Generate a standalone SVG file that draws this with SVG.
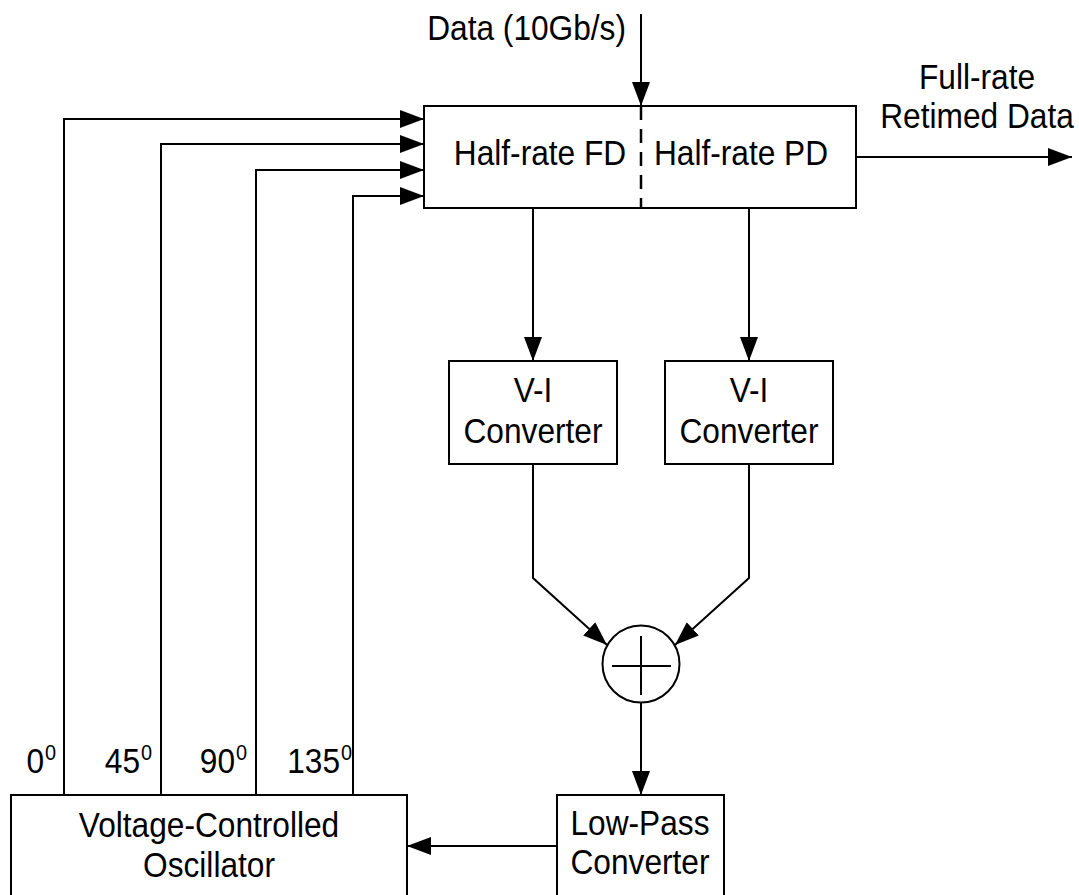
<svg xmlns="http://www.w3.org/2000/svg" width="1079" height="895" viewBox="0 0 1079 895">
<style>
.box{fill:#fff;stroke:#000;stroke-width:2}
.ln{fill:none;stroke:#000;stroke-width:2}
text{font-family:"Liberation Sans",Arial,sans-serif;font-size:35px;fill:#000}
.c{text-anchor:middle}
.e{text-anchor:end}
.sup{font-size:22px}
</style>
<defs>
<marker id="ah" markerUnits="userSpaceOnUse" viewBox="0 0 24 18" refX="24" refY="9" markerWidth="24" markerHeight="18" orient="auto">
<path d="M0,0 L24,9 L0,18 Z" fill="#000"/>
</marker>
</defs>
<rect width="1079" height="895" fill="#fff"/>
<g id="connectors">
<line class="ln" x1="641" y1="14" x2="641" y2="106" marker-end="url(#ah)"/>
<line class="ln" x1="856" y1="157" x2="1072" y2="157" marker-end="url(#ah)"/>
<polyline class="ln" points="64,795 64,119 424,119" marker-end="url(#ah)"/>
<polyline class="ln" points="161,795 161,144 424,144" marker-end="url(#ah)"/>
<polyline class="ln" points="256,795 256,170 424,170" marker-end="url(#ah)"/>
<polyline class="ln" points="353,795 353,196 424,196" marker-end="url(#ah)"/>
<line class="ln" x1="533" y1="208" x2="533" y2="361" marker-end="url(#ah)"/>
<line class="ln" x1="749" y1="208" x2="749" y2="361" marker-end="url(#ah)"/>
<polyline class="ln" points="533,464 533,578 607,645" marker-end="url(#ah)"/>
<polyline class="ln" points="749,464 749,578 675,645" marker-end="url(#ah)"/>
<line class="ln" x1="641" y1="703" x2="641" y2="795" marker-end="url(#ah)"/>
<line class="ln" x1="557" y1="846" x2="407" y2="846" marker-end="url(#ah)"/>
</g>
<g id="input-label">
<text class="e" transform="translate(626,40) scale(0.905,1)">Data (10Gb/s)</text>
</g>
<g id="output-label">
<text class="c" transform="translate(977,89) scale(0.905,1)">Full-rate</text>
<text class="c" transform="translate(977,128) scale(0.905,1)">Retimed Data</text>
</g>
<g id="detector">
<rect class="box" x="424" y="106" width="432" height="102"/>
<line x1="641" y1="106" x2="641" y2="208" stroke="#000" stroke-width="2.5" stroke-dasharray="14,9"/>
<text class="c" transform="translate(540,165) scale(0.905,1)">Half-rate FD</text>
<text class="c" transform="translate(741,165) scale(0.905,1)">Half-rate PD</text>
</g>
<g id="vi-left">
<rect class="box" x="449" y="361" width="168" height="103"/>
<text class="c" transform="translate(533,402) scale(0.905,1)">V-I</text>
<text class="c" transform="translate(533,443) scale(0.905,1)">Converter</text>
</g>
<g id="vi-right">
<rect class="box" x="665" y="361" width="168" height="103"/>
<text class="c" transform="translate(749,402) scale(0.905,1)">V-I</text>
<text class="c" transform="translate(749,443) scale(0.905,1)">Converter</text>
</g>
<g id="summer">
<circle class="box" cx="641" cy="664" r="38.5"/>
<line class="ln" x1="612" y1="666" x2="671" y2="666"/>
<line class="ln" x1="641" y1="636" x2="641" y2="695"/>
</g>
<g id="lowpass">
<rect class="box" x="557" y="795" width="167" height="110"/>
<text class="c" transform="translate(640,835) scale(0.905,1)">Low-Pass</text>
<text class="c" transform="translate(640,874) scale(0.905,1)">Converter</text>
</g>
<g id="vco">
<rect class="box" x="11" y="795" width="396" height="110"/>
<text class="c" transform="translate(209,837) scale(0.905,1)">Voltage-Controlled</text>
<text class="c" transform="translate(209,877) scale(0.905,1)">Oscillator</text>
</g>
<g id="phase-labels">
<text class="e" transform="translate(44,773) scale(0.905,1)">0</text><text class="sup" transform="translate(45,760) scale(0.905,1)">0</text>
<text class="e" transform="translate(140,773) scale(0.905,1)">45</text><text class="sup" transform="translate(141,760) scale(0.905,1)">0</text>
<text class="e" transform="translate(235,773) scale(0.905,1)">90</text><text class="sup" transform="translate(236,760) scale(0.905,1)">0</text>
<text class="e" transform="translate(340,773) scale(0.905,1)">135</text><text class="sup" transform="translate(341,760) scale(0.905,1)">0</text>
</g>
</svg>
